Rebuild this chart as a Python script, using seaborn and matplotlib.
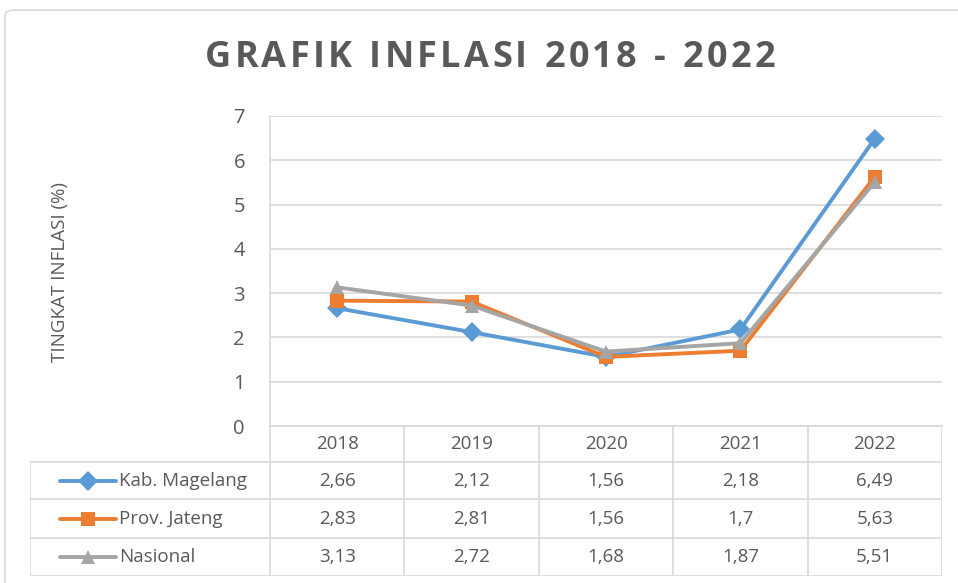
import pandas as pd
import seaborn as sns
import matplotlib.pyplot as plt
from matplotlib.patches import FancyBboxPatch

sns.set_style("white")

years = ["2018", "2019", "2020", "2021", "2022"]
series_names = ["Kab. Magelang", "Prov. Jateng", "Nasional"]
kab_magelang = [2.66, 2.12, 1.56, 2.18, 6.49]
prov_jateng = [2.83, 2.81, 1.56, 1.70, 5.63]
nasional = [3.13, 2.72, 1.68, 1.87, 5.51]
colors = ["#5B9BD5", "#ED7D31", "#A5A5A5"]
markers = ["D", "s", "^"]
title = "GRAFIK INFLASI 2018 - 2022"

TXT = "#595959"
GRID = "#D9D9D9"
W, H = 958, 583

values = [kab_magelang, prov_jateng, nasional]
rows = []
for name, vals in zip(series_names, values):
    for i, v in enumerate(vals):
        rows.append((i, v, name))
df = pd.DataFrame(rows, columns=["idx", "value", "series"])

fig = plt.figure(figsize=(W / 100, H / 100), dpi=100)
plt.rcParams["font.family"] = ["Open Sans", "DejaVu Sans"]

# outer chart frame
frame = FancyBboxPatch((5 / W, -0.05), 1.2, (H - 10) / H + 0.05,
                       boxstyle="round,pad=0,rounding_size=0.01",
                       transform=fig.transFigure, fill=False,
                       edgecolor=GRID, linewidth=1.2)
fig.patches.append(frame)

ax = fig.add_axes([270 / W, (H - 426) / H, (942 - 270) / W, (426 - 116) / H])
sns.lineplot(data=df, x="idx", y="value", hue="series", style="series",
             hue_order=series_names, style_order=series_names,
             markers=markers, dashes=False, palette=colors,
             markersize=10, linewidth=2.8, markeredgewidth=0,
             legend=False, ax=ax)
ax.set_xlim(-0.5, 4.5)
ax.set_ylim(0, 7)
ax.set_yticks(range(0, 8))
ax.set_xticks([])
ax.set_xlabel("")
ax.set_ylabel("")
ax.grid(axis="y", color=GRID, linewidth=1.2)
ax.set_axisbelow(True)
for s in ["top", "right"]:
    ax.spines[s].set_visible(False)
for s in ["left", "bottom"]:
    ax.spines[s].set_color(GRID)
    ax.spines[s].set_linewidth(1.2)
ax.tick_params(axis="y", length=0, pad=18, labelsize=14.5, labelcolor=TXT)

# letter-spaced title, drawn one character at a time
renderer = fig.canvas.get_renderer()
tsize = 26
widths = []
for ch in title:
    t = fig.text(0, 0, ch if ch != " " else "I", fontsize=tsize, fontweight="bold")
    w = t.get_window_extent(renderer).width
    if ch == " ":
        w *= 0.9
    widths.append(w)
    t.remove()
target_left, target_right = 205, 775
gap = (target_right - target_left - sum(widths)) / (len(title) - 1)
x = target_left
for ch, w in zip(title, widths):
    if ch != " ":
        fig.text(x / W, 1 - 58 / H, ch, ha="left", va="center",
                 fontsize=tsize, fontweight="bold", color=TXT)
    x += w + gap

fig.text(60 / W, 1 - 272 / H, "TINGKAT INFLASI (%)", rotation=90,
         ha="center", va="center", fontsize=13.5, color=TXT)

# data table below the plot
tab = fig.add_axes([30 / W, (H - 576) / H, (942 - 30) / W, (576 - 426) / H])
tab.set_xlim(30, 942)
tab.set_ylim(576, 426)
tab.axis("off")
row_y = [426, 462, 499, 538, 576]
col_w = (942 - 270) / len(years)
col_x = [270 + col_w * k for k in range(len(years) + 1)]
for y in row_y[1:]:
    tab.plot([30, 942], [y, y], color=GRID, lw=1.2)
tab.plot([30, 30], [462, 576], color=GRID, lw=1.2)
for x in col_x:
    tab.plot([x, x], [426, 576], color=GRID, lw=1.2)

fs = 13.5
for k, yr in enumerate(years):
    tab.text(col_x[k] + col_w / 2, (row_y[0] + row_y[1]) / 2, yr,
             ha="center", va="center", fontsize=fs, color=TXT)
for r, (name, vals, c, m) in enumerate(zip(series_names, values, colors, markers)):
    yc = (row_y[r + 1] + row_y[r + 2]) / 2
    tab.plot([60, 116], [yc, yc], color=c, lw=2.8)
    tab.plot([88], [yc], marker=m, color=c, markersize=10, markeredgewidth=0)
    tab.text(119, yc, name, ha="left", va="center", fontsize=fs, color=TXT)
    for k, v in enumerate(vals):
        lab = f"{v:g}".replace(".", ",")
        tab.text(col_x[k] + col_w / 2, yc, lab, ha="center", va="center",
                 fontsize=fs, color=TXT)

fig.savefig("out.png", dpi=100)
